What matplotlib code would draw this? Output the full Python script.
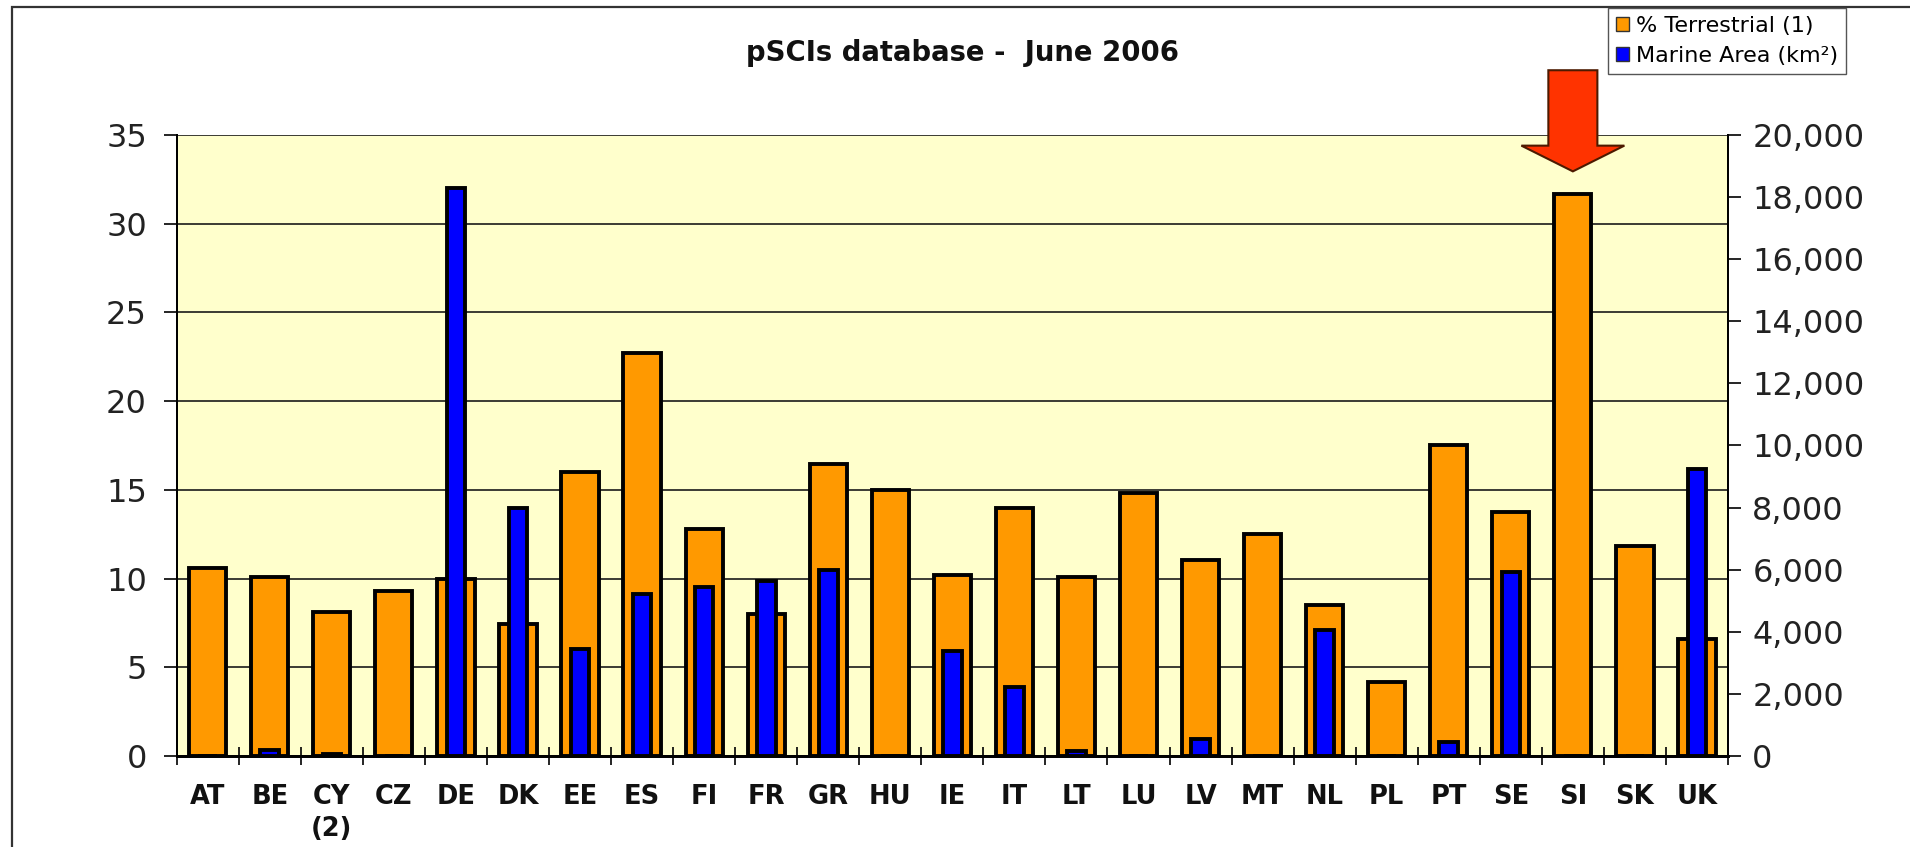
import matplotlib

matplotlib.use("Agg")
import matplotlib.pyplot as plt
import numpy as np
from matplotlib.patches import Patch, Polygon, Rectangle
from matplotlib.ticker import FuncFormatter, MultipleLocator

countries = ["AT", "BE", "CY\n(2)", "CZ", "DE", "DK", "EE", "ES", "FI", "FR", "GR", "HU", "IE",
             "IT", "LT", "LU", "LV", "MT", "NL", "PL", "PT", "SE", "SI", "SK", "UK"]
terrestrial_pct = [10.6, 10.1, 8.1, 9.3, 10.0, 7.45, 16.0, 22.7, 12.8, 8.0, 16.45, 15.0, 10.2,
                   14.0, 10.1, 14.8, 11.05, 12.5, 8.5, 4.15, 17.5, 13.75, 31.7, 11.85, 6.6]
marine_km2 = [0, 180, 80, 0, 18300, 8000, 3450, 5230, 5450, 5640, 6000, 0, 3380,
              2220, 150, 0, 540, 0, 4070, 0, 440, 5930, 0, 0, 9240]
highlight = "SI"

ORANGE = "#FF9900"
BLUE = "#0000FF"
PLOT_BG = "#FFFFCC"

W, H = 1910, 847
fig = plt.figure(figsize=(W / 100, H / 100), dpi=100)
ax = fig.add_axes([176.7 / W, 1 - 756 / H, (1728 - 176.7) / W, (756 - 135) / H])
ax2 = ax.twinx()

x = np.arange(len(countries))
ax.set_facecolor(PLOT_BG)
ax.bar(x, terrestrial_pct, width=0.6, color=ORANGE, edgecolor="black", linewidth=2.8, zorder=2)
ax2.bar(x, marine_km2, width=0.3, color=BLUE, edgecolor="black", linewidth=2.8, zorder=2)

ax.set_xlim(-0.5, len(countries) - 0.5)
ax.set_ylim(0, 35)
ax2.set_ylim(0, 20000)
ax.yaxis.set_major_locator(MultipleLocator(5))
ax2.yaxis.set_major_locator(MultipleLocator(2000))
ax2.yaxis.set_major_formatter(FuncFormatter(lambda v, _: f"{v:,.0f}"))

ax.set_axisbelow(True)
ax.yaxis.grid(True, color="#1a1a1a", linewidth=1.2)

# category labels at centres, crossing ticks at the boundaries
ax.set_xticks(x)
ax.set_xticklabels(countries, fontsize=18.5, fontweight="bold", linespacing=1.3)
ax.set_xticks(np.arange(-0.5, len(countries)), minor=True)
ax.tick_params(axis="x", which="major", length=0, pad=20, colors="#111111")
ax.tick_params(axis="x", which="minor", direction="inout", length=13, width=1.2)

ax.tick_params(axis="y", direction="out", length=9.5, width=1.2, pad=12,
               labelsize=23, labelcolor="#222222")
ax2.tick_params(axis="y", direction="out", length=9.5, width=1.2, pad=8,
                labelsize=23, labelcolor="#222222")

for a in (ax, ax2):
    a.spines["top"].set_visible(False)
    a.spines["left"].set_linewidth(1.4)
    a.spines["right"].set_linewidth(1.4)
    a.spines["bottom"].set_linewidth(2.0)

# red arrow pointing at the highlighted bar
i = countries.index(highlight)
tip = terrestrial_pct[i] + 1.25
arrow = Polygon(
    [(i - 0.395, tip + 5.7), (i + 0.395, tip + 5.7), (i + 0.395, tip + 1.45), (i + 0.83, tip + 1.45),
     (i, tip), (i - 0.83, tip + 1.45), (i - 0.395, tip + 1.45)],
    closed=True, facecolor="#FF3300", edgecolor="#4d1a00", linewidth=1.5,
    clip_on=False, zorder=10,
)
ax2.add_patch(arrow)
arrow.set_transform(ax.transData)

fig.text(962 / W, 1 - 53 / H, "pSCIs database -  June 2006", ha="center", va="center",
         fontsize=19.8, fontweight="bold", color="#111111")

handles = [Patch(facecolor=ORANGE, edgecolor="#333333", linewidth=1),
           Patch(facecolor=BLUE, edgecolor="#333333", linewidth=1)]
fig.legend(handles, ["% Terrestrial (1)", "Marine Area (km²)"], loc="upper left",
           bbox_to_anchor=(1608 / W, 1 - 8 / H), fontsize=16, frameon=True, fancybox=False,
           edgecolor="#555555", framealpha=1, handlelength=0.6, handleheight=0.6,
           handletextpad=0.3, borderpad=0.35, labelspacing=0.45, borderaxespad=0)

fig.add_artist(Rectangle((12 / W, -0.05), 1.0, 1.05 - 7 / H, transform=fig.transFigure,
                         fill=False, edgecolor="#333333", linewidth=1.6))

fig.savefig("out.png", dpi=100)
